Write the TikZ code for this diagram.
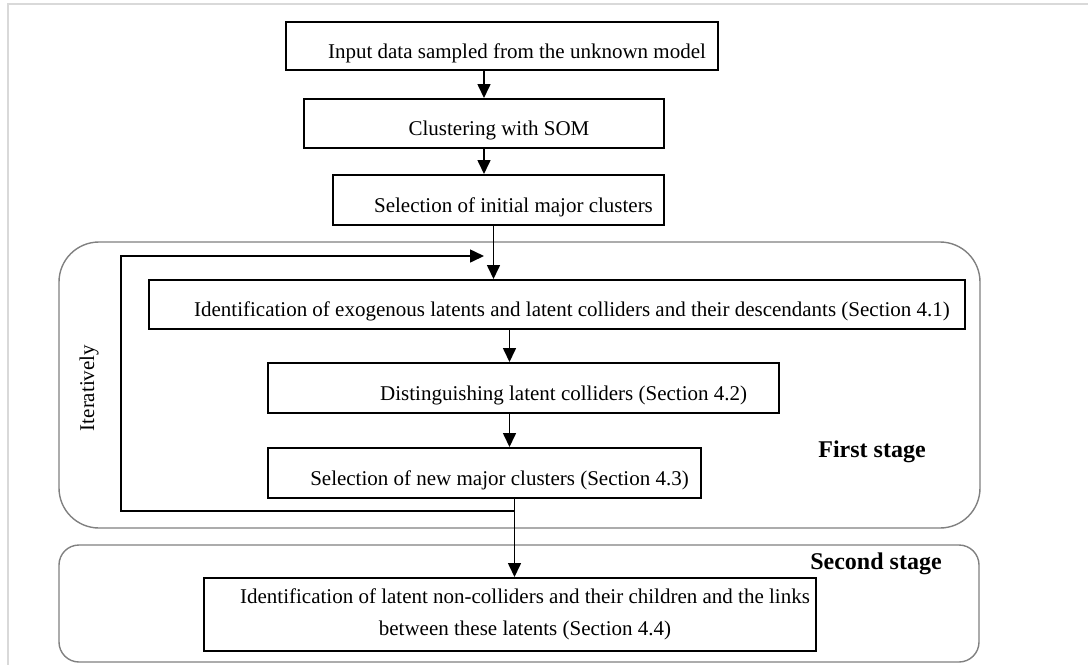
\documentclass[tikz,border=0pt]{standalone}
\usepackage{fontspec}
\setmainfont{Liberation Serif}
\usetikzlibrary{arrows.meta}
\definecolor{stagegray}{HTML}{808080}
\definecolor{framegray}{HTML}{D9D9D9}
\newcommand{\lpad}[1][15pt]{\hspace*{#1}}
\tikzset{
  stepbox/.style={draw, line width=1pt, anchor=north west, align=center,
    inner xsep=1pt, inner ysep=3pt, font=\fontsize{10.5}{16}\selectfont,
    text height=12pt, text depth=0pt},
  flow/.style={line width=0.8pt, -{Triangle[length=7pt,width=6.5pt]}},
  stagebox/.style={draw=stagegray, line width=0.7pt},
  stagelabel/.style={font=\fontsize{12}{14}\selectfont\bfseries}
}
\begin{document}
\begin{tikzpicture}[x=0.5pt,y=-0.5pt]
  \useasboundingbox (0,0) rectangle (1088,665);
  \draw[framegray, line width=1pt] (1088,4) -- (8,4) -- (8,665);
  \draw[stagebox, rounded corners=20pt] (59,242) rectangle (980,528);
  \draw[stagebox, rounded corners=10pt] (59,545) rectangle (979,662);

  \node[stepbox, minimum width=216pt, minimum height=24pt] (input) at (285,21)
    {\lpad Input data sampled from the unknown model};
  \node[stepbox, minimum width=180pt, minimum height=24.5pt] (som) at (303,98)
    {\lpad Clustering with SOM};
  \node[stepbox, minimum width=165.5pt, minimum height=25pt] (init) at (332,174)
    {\lpad Selection of initial major clusters};
  \node[stepbox, minimum width=408pt, minimum height=24.5pt] (exo) at (148,279)
    {\lpad Identification of exogenous latents and latent colliders and their descendants (Section 4.1)};
  \node[stepbox, minimum width=255.5pt, minimum height=25pt] (dist) at (267,362)
    {\lpad[37.5pt] Distinguishing latent colliders (Section 4.2)};
  \node[stepbox, minimum width=216.5pt, minimum height=25pt] (sel) at (267,447)
    {\lpad Selection of new major clusters (Section 4.3)};
  \node[stepbox, minimum width=306pt, minimum height=36.5pt, text height=, text depth=] (nonc) at (203,577)
    {\lpad Identification of latent non-colliders and their children and the links\\
     \lpad between these latents (Section 4.4)};

  \node[stagelabel] (first) at (872,452) {First stage};
  \node[stagelabel] (second) at (876,564) {Second stage};
  \node[font=\fontsize{10.5}{12}\selectfont, rotate=90] (iter) at (89,388) {Iteratively};

  \coordinate (split) at ([xshift=15pt]sel.south);
  \coordinate (loopbot) at (121,511);
  \coordinate (looptop) at (121,256);
  \coordinate (loopend) at (484,256);

  \draw[flow] (input.south -| som.north) -- (som.north);
  \draw[flow] (som.south) -- (som.south |- init.north);
  \draw[flow] ([xshift=-2.5pt]init.south) -- ([xshift=-2.5pt]init.south |- exo.north);
  \draw[flow] ([xshift=-7pt]dist.north |- exo.south) -- ([xshift=-7pt]dist.north);
  \draw[flow] ([xshift=-7pt]dist.south) -- ([xshift=-7pt]dist.south |- sel.north);
  \draw[flow] (split) -- (split |- nonc.north);
  \draw[flow] (split |- loopbot) -- (loopbot) -- (looptop) -- (loopend);
\end{tikzpicture}
\end{document}
